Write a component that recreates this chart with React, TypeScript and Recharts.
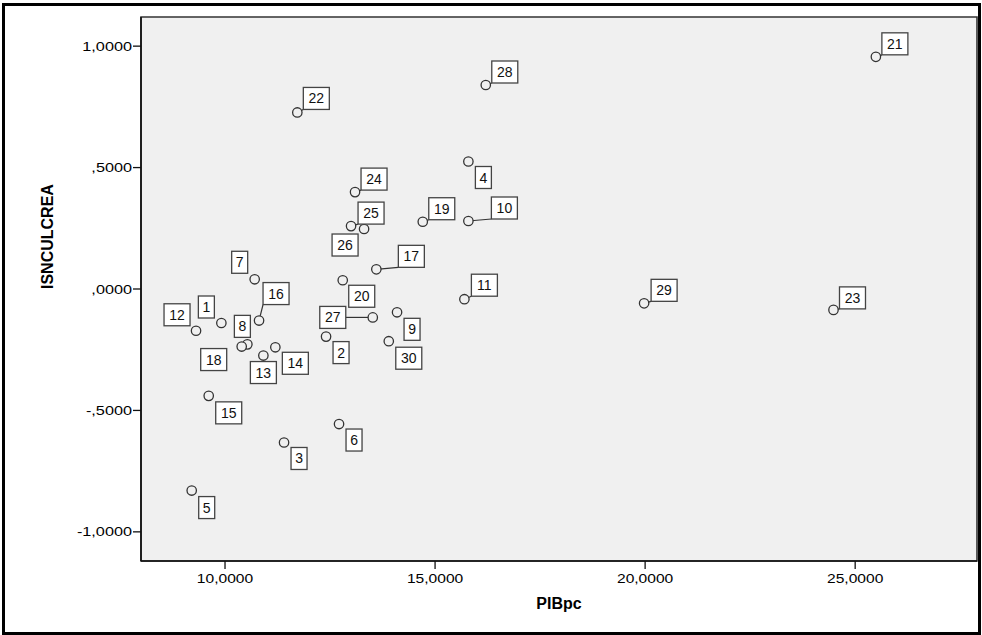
import React from 'react';
import { CartesianGrid, ReferenceArea, Scatter, ScatterChart, XAxis, YAxis } from 'recharts';

// case numbers and their values
const caseIds = [1, 2, 3, 4, 5, 6, 7, 8, 9, 10, 11, 12, 13, 14, 15, 16, 17, 18, 19, 20, 21, 22, 23, 24, 25, 26, 27, 28, 29, 30];
const pibpc = [
  9913, 12405, 11405, 15793, 9207, 12714, 10706, 10532, 14095, 15793,
  15698, 9310, 10913, 11198, 9612, 10810, 13602, 10397, 14707, 12802,
  25493, 11721, 24484, 13095, 13000, 13310, 13517, 16207, 19976, 13898
];
const isnculcrea = [
  -0.14, -0.196, -0.632, 0.525, -0.83, -0.556, 0.04, -0.228, -0.096, 0.28,
  -0.042, -0.172, -0.274, -0.24, -0.44, -0.13, 0.081, -0.237, 0.277, 0.036,
  0.956, 0.727, -0.086, 0.399, 0.259, 0.247, -0.117, 0.84, -0.059, -0.215
];

const xTicks = [10000, 15000, 20000, 25000];
const xTickLabels = ['10,0000', '15,0000', '20,0000', '25,0000'];
const yTicks = [-1, -0.5, 0, 0.5, 1];
const yTickLabels = ['-1,0000', '-,5000', ',0000', ',5000', '1,0000'];

// where each case label box sits, relative to its point (layout only)
const labelOffsets: Record<number, [number, number]> = {
  1: [-15, -16], 2: [15, 16], 3: [15, 16], 4: [15, 16], 5: [15, 17],
  6: [15, 16], 7: [-15, -17], 8: [-5, -18], 9: [15, 17], 10: [36, -13],
  11: [20, -14], 12: [-19, -16], 13: [0, 17], 14: [20, 16], 15: [20, 17],
  16: [17, -27], 17: [35, -13], 18: [-28, 13], 19: [19, -13], 20: [19, 16],
  21: [19, -13], 22: [19, -14], 23: [19, -12], 24: [19, -13], 25: [20, -13],
  26: [-19, 16], 27: [-40, 0], 28: [19, -13], 29: [20, -13], 30: [20, 17]
};

const data = caseIds.map((id, i) => ({ id, x: pibpc[i], y: isnculcrea[i] }));

const FONT = '"Liberation Sans", Arial, sans-serif';
const BOX_H = 22;
const boxWidth = (id: number) => (id < 10 ? 16 : 26);
const clamp = (v: number, a: number, b: number) => Math.max(a, Math.min(b, v));

const PointShape = (props: any) => {
  const { cx, cy, payload } = props;
  if (cx == null || cy == null) return null;
  const [dx, dy] = labelOffsets[payload.id];
  const w = boxWidth(payload.id);
  const nx = clamp(cx, cx + dx - w / 2, cx + dx + w / 2);
  const ny = clamp(cy, cy + dy - BOX_H / 2, cy + dy + BOX_H / 2);
  const leader = (dx > 0 && dy < 0) || Math.abs(dx) > 30;
  return (
    <g>
      {leader && <line x1={cx} y1={cy} x2={nx} y2={ny} stroke="#333" strokeWidth={1.2} />}
      <circle cx={cx} cy={cy} r={4.7} fill="#f0f0f0" stroke="#333" strokeWidth={1.3} />
    </g>
  );
};

const LabelShape = (props: any) => {
  const { cx, cy, payload } = props;
  if (cx == null || cy == null) return null;
  const [dx, dy] = labelOffsets[payload.id];
  const w = boxWidth(payload.id);
  return (
    <g>
      <rect x={cx + dx - w / 2} y={cy + dy - BOX_H / 2} width={w} height={BOX_H} fill="#fff" stroke="#444" strokeWidth={1.3} />
      <text x={cx + dx} y={cy + dy + 5} textAnchor="middle" fontSize={14} fontFamily={FONT} fill="#111">
        {payload.id}
      </text>
    </g>
  );
};

const XTick = ({ x, y, payload }: any) => {
  const i = xTicks.indexOf(payload.value);
  return (
    <g transform={`translate(${x},${y})`}>
      <text transform="scale(1.2,1)" textAnchor="middle" dy={12} fontSize={13} fontFamily={FONT} fill="#000">
        {xTickLabels[i]}
      </text>
    </g>
  );
};

const YTick = ({ x, y, payload }: any) => {
  const i = yTicks.indexOf(payload.value);
  return (
    <g transform={`translate(${x},${y})`}>
      <text transform="scale(1.25,1)" textAnchor="end" dy={4.5} fontSize={13} fontFamily={FONT} fill="#000">
        {yTickLabels[i]}
      </text>
    </g>
  );
};

const App: React.FC = () => {
  return (
    <div style={{ position: 'absolute', left: 0, top: 0, width: 982, height: 635, background: '#fff' }}>
      <ScatterChart width={982} height={635} margin={{ top: 17, right: 5, bottom: 0, left: 0 }}>
        <CartesianGrid fill="#f0f0f0" horizontal={false} vertical={false} />
        <XAxis
          type="number"
          dataKey="x"
          domain={[8000, 27900]}
          ticks={xTicks}
          allowDataOverflow
          height={74}
          tickSize={8}
          tickMargin={2}
          tick={<XTick />}
          axisLine={{ stroke: '#111', strokeWidth: 1.6 }}
          tickLine={{ stroke: '#111', strokeWidth: 1.3 }}
          label={{ value: 'PIBpc', position: 'insideBottom', offset: 26, fontSize: 16, fontWeight: 'bold', fontFamily: FONT, fill: '#000' }}
        />
        <YAxis
          type="number"
          dataKey="y"
          domain={[-1.12, 1.12]}
          ticks={yTicks}
          allowDataOverflow
          width={141}
          tickSize={8}
          tickMargin={1}
          tick={<YTick />}
          axisLine={{ stroke: '#111', strokeWidth: 1.6 }}
          tickLine={{ stroke: '#111', strokeWidth: 1.3 }}
          label={{ value: 'ISNCULCREA', angle: -90, position: 'insideLeft', offset: 47, fontSize: 16, fontWeight: 'bold', fontFamily: FONT, fill: '#000' }}
        />
        <ReferenceArea x1={8000} x2={27900} y1={-1.12} y2={1.12} fill="none" stroke="#333" strokeWidth={1.6} />
        <Scatter data={data} shape={<PointShape />} isAnimationActive={false} />
        <Scatter data={data} shape={<LabelShape />} isAnimationActive={false} />
      </ScatterChart>
      <div
        style={{
          position: 'absolute', left: 2, top: 3, width: 979, height: 632,
          border: '3px solid #000', boxSizing: 'border-box', pointerEvents: 'none'
        }}
      />
    </div>
  );
};

export default App;
